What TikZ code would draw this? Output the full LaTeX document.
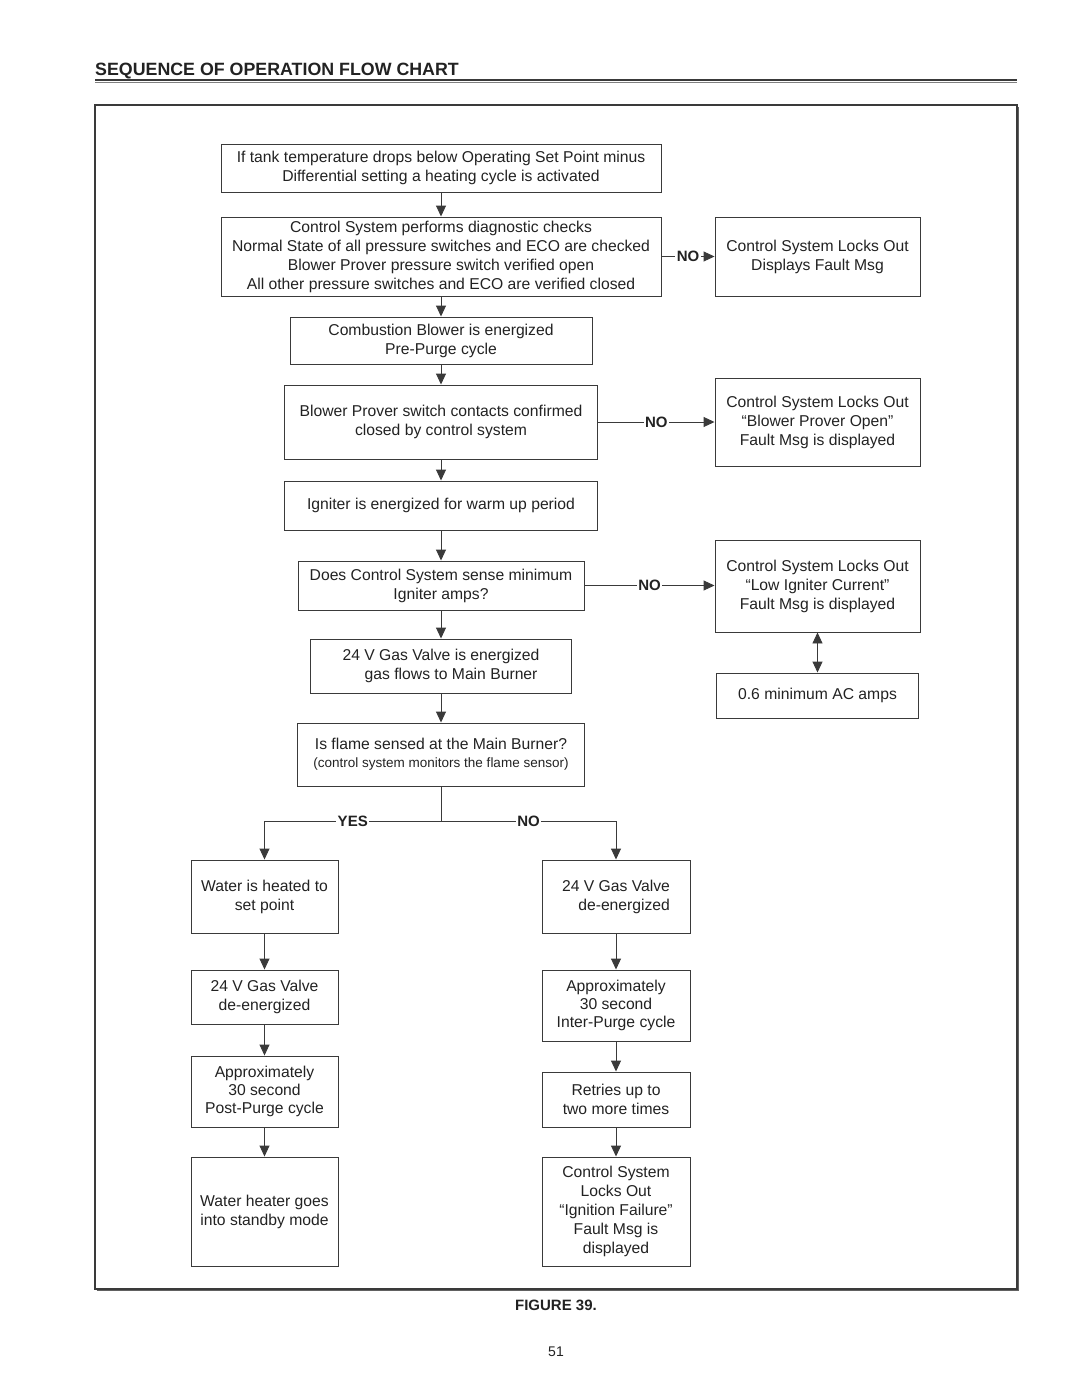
\documentclass[tikz,border=0pt]{standalone}
\usepackage{fontspec}
\setmainfont{Liberation Sans}
\usetikzlibrary{arrows.meta}
\definecolor{linec}{HTML}{3A3A3A}
\definecolor{txt}{HTML}{222222}
\begin{document}
\begin{tikzpicture}[x=1pt,y=-1pt,
 box/.style={draw=linec, line width=0.95pt, inner sep=0pt, align=center, font=\fontsize{15.7}{19}\selectfont, text=txt},
 conn/.style={draw=linec, line width=0.95pt},
 arr/.style={conn, -{Triangle[length=11pt,width=10pt]}},
 darr/.style={conn, {Triangle[length=11pt,width=10pt]}-{Triangle[length=11pt,width=10pt]}},
 lbl/.style={fill=white, inner sep=1.5pt, font=\fontsize{15}{18}\selectfont\bfseries, text=txt}]
\useasboundingbox (0,0) rectangle (1080,1397);

% title and frame
\node[anchor=base west, inner sep=0pt, font=\fontsize{17.8}{20}\selectfont\bfseries, text=txt] (title) at (95,76) {SEQUENCE OF OPERATION FLOW CHART};
\draw[linec, line width=1.6pt] (95,80) -- (1017,80);
\draw[gray, line width=0.8pt] (95,82.3) -- (1017,82.3);
\draw[linec, line width=1.4pt] (95,105) rectangle (1017,1289);
\draw[linec!80, line width=1.2pt] (96.5,1290.6) -- (1018.6,1290.6) -- (1018.6,106.5);

% main column
\node[box, minimum width=440, minimum height=48] (b1) at (441,168) {If tank temperature drops below Operating Set Point minus\\Differential setting a heating cycle is activated};
\node[box, minimum width=440, minimum height=79] (b2) at (441,256.5) {Control System performs diagnostic checks\\Normal State of all pressure switches and ECO are checked\\Blower Prover pressure switch verified open\\All other pressure switches and ECO are verified closed};
\node[box, minimum width=302, minimum height=47] (b3) at (441,340.5) {Combustion Blower is energized\\Pre-Purge cycle};
\node[box, minimum width=313, minimum height=74] (b4) at (441,422) {Blower Prover switch contacts confirmed\\closed by control system};
\node[box, minimum width=313, minimum height=49] (b5) at (441,505.5) {Igniter is energized for warm up period};
\node[box, minimum width=286, minimum height=49] (b6) at (441,585.5) {Does Control System sense minimum\\Igniter amps?};
\node[box, minimum width=261, minimum height=54, align=right] (b7) at (441,666) {24 V Gas Valve is energized\\gas flows to Main Burner\hspace*{2pt}};
\node[box, minimum width=287, minimum height=63] (b8) at (441,754.5) {Is flame sensed at the Main Burner?\\[-1pt]{\fontsize{13.5}{17}\selectfont (control system monitors the flame sensor)}};

% fault column
\node[box, minimum width=205, minimum height=79] (f1) at (817.5,256.5) {Control System Locks Out\\Displays Fault Msg};
\node[box, minimum width=205, minimum height=88] (f2) at (817.5,422) {Control System Locks Out\\“Blower Prover Open”\\Fault Msg is displayed};
\node[box, minimum width=205, minimum height=92] (f3) at (817.5,586) {Control System Locks Out\\“Low Igniter Current”\\Fault Msg is displayed};
\node[box, minimum width=202, minimum height=45] (f4) at (817.5,695.5) {0.6 minimum AC amps};

% yes column
\node[box, minimum width=147, minimum height=73] (l1) at (264.5,896.5) {Water is heated to\\set point};
\node[box, minimum width=147, minimum height=54] (l2) at (264.5,997) {24 V Gas Valve\\de-energized};
\node[box, minimum width=147, minimum height=71, font=\fontsize{15.7}{18}\selectfont] (l3) at (264.5,1091.5) {Approximately\\30 second\\Post-Purge cycle};
\node[box, minimum width=147, minimum height=109] (l4) at (264.5,1211.5) {Water heater goes\\into standby mode};

% no column
\node[box, minimum width=148, minimum height=73, align=right] (r1) at (616,896.5) {24 V Gas Valve\\de-energized};
\node[box, minimum width=148, minimum height=71, font=\fontsize{15.7}{18}\selectfont] (r2) at (616,1005.5) {Approximately\\30 second\\Inter-Purge cycle};
\node[box, minimum width=148, minimum height=55] (r3) at (616,1099.5) {Retries up to\\two more times};
\node[box, minimum width=148, minimum height=109, font=\fontsize{15.7}{18.8}\selectfont] (r4) at (616,1211.5) {Control System\\Locks Out\\“Ignition Failure”\\Fault Msg is\\displayed};

% connectors main
\draw[arr] (b1.south) -- (b2.north);
\draw[arr] (b2.south) -- (b3.north);
\draw[arr] (b3.south) -- (b4.north);
\draw[arr] (b4.south) -- (b5.north);
\draw[arr] (b5.south) -- (b6.north);
\draw[arr] (b6.south) -- (b7.north);
\draw[arr] (b7.south) -- (b8.north);

\draw[arr] (b2.east) -- node[lbl]{NO} (f1.west);
\draw[arr] (b4.east) -- node[lbl]{NO} (b4.east -| f2.west);
\draw[arr] (b6.east) -- node[lbl]{NO} (b6.east -| f3.west);
\draw[darr] (f3.south) -- (f4.north);

\coordinate (sp) at (441,821);
\draw[conn] (b8.south) -- (sp);
\draw[arr] (sp) -- node[lbl]{YES} (sp -| l1.north) -- (l1.north);
\draw[arr] (sp) -- node[lbl]{NO} (sp -| r1.north) -- (r1.north);

\draw[arr] (l1.south) -- (l2.north);
\draw[arr] (l2.south) -- (l3.north);
\draw[arr] (l3.south) -- (l4.north);
\draw[arr] (r1.south) -- (r2.north);
\draw[arr] (r2.south) -- (r3.north);
\draw[arr] (r3.south) -- (r4.north);

% captions
\node[anchor=base, inner sep=0pt, font=\fontsize{15}{18}\selectfont\bfseries, text=txt] (fig) at (556,1310) {FIGURE 39.};
\node[anchor=base, inner sep=0pt, font=\fontsize{14}{17}\selectfont, text=txt] (pg) at (556,1356) {51};
\end{tikzpicture}
\end{document}
